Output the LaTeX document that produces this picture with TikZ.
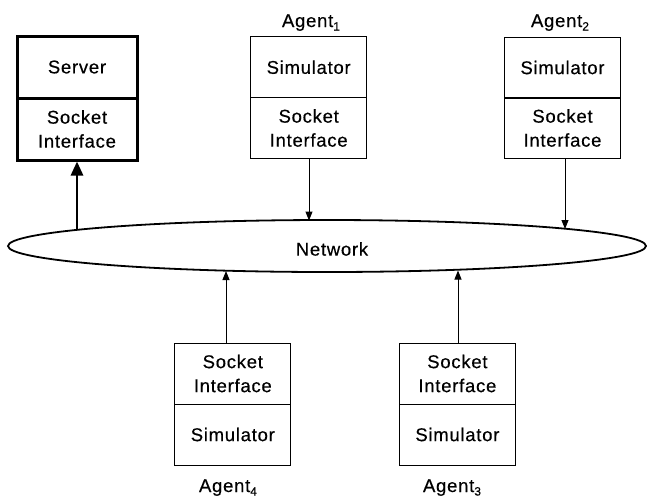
\documentclass[tikz,border=0pt]{standalone}
\usepackage{fontspec}
\setmainfont{Liberation Sans}[LetterSpace=4,FakeBold=0.4]
\usetikzlibrary{arrows.meta,shapes.geometric}
\newcommand{\agsub}[1]{\raisebox{-3.5pt}{\fontsize{12}{12}\selectfont #1}}
\begin{document}
\begin{tikzpicture}[x=1pt,y=-1pt,
  half/.style={draw, line width=1pt, minimum width=116pt, minimum height=61pt, inner sep=0pt, align=center, font=\fontsize{18.5}{24}\selectfont},
  srv/.style={half, line width=3pt, minimum width=120pt, minimum height=62pt},
  lbl/.style={font=\fontsize{18.5}{22}\selectfont, inner sep=0pt, anchor=base},
  arr/.style={line width=1pt, -{Triangle[width=7pt,length=9pt]}},
  thickarr/.style={line width=2.8pt, -{Triangle[width=12pt,length=14pt]}}
]
\useasboundingbox (0,0) rectangle (647,499);

% network
\node[draw, ellipse, line width=1.8pt, minimum width=638pt, minimum height=52pt, inner sep=0pt] (net) at (327,246) {};
\node[font=\fontsize{18.5}{22}\selectfont, inner sep=0pt] (nettext) at (332,249) {Network};

% server
\node[srv] (st) at (77,67) {Server};
\node[srv] (sb) at (77,129) {Socket\\Interface};

% agent 1
\node[half] (a1t) at (308.7,67.2) {Simulator};
\node[half] (a1b) at (308.7,128) {Socket\\Interface};
\node[lbl] (l1) at (311,27) {Agent\agsub{1}};

% agent 2
\node[half] (a2t) at (562.5,67.5) {Simulator};
\node[half] (a2b) at (562.5,128) {Socket\\Interface};
\node[lbl] (l2) at (560,27) {Agent\agsub{2}};

% agent 4
\node[half] (a4t) at (232.8,373.5) {Socket\\Interface};
\node[half] (a4b) at (232.8,434.5) {Simulator};
\node[lbl] (l4) at (228,492) {Agent\agsub{4}};

% agent 3
\node[half] (a3t) at (457.4,373.5) {Socket\\Interface};
\node[half] (a3b) at (457.4,434.5) {Simulator};
\node[lbl] (l3) at (452,492) {Agent\agsub{3}};

% ellipse contact points
\coordinate (e0) at (77,229.5);
\coordinate (e1) at (309,220.5);
\coordinate (e2) at (565,229);
\coordinate (e4) at (226,271);
\coordinate (e3) at (458,270.5);

% connectors
\draw[thickarr] (e0) -- (sb.south);
\draw[arr] (e1 |- a1b.south) -- (e1);
\draw[arr] (e2 |- a2b.south) -- (e2);
\draw[arr] (e4 |- a4t.north) -- (e4);
\draw[arr] (e3 |- a3t.north) -- (e3);
\end{tikzpicture}
\end{document}
